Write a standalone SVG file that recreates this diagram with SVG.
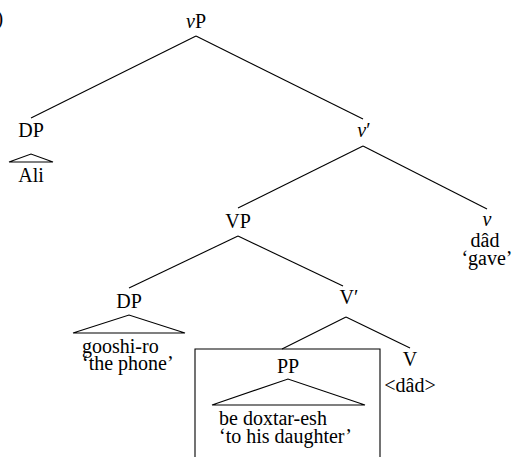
<svg xmlns="http://www.w3.org/2000/svg" width="513" height="457" viewBox="0 0 513 457">
<style>
text{font-family:"Liberation Serif","Times New Roman",serif;font-size:20px;fill:#000}
.c{text-anchor:middle}
.s{text-anchor:start}
.i{font-style:italic}
line,polyline,path{stroke:#000;stroke-width:1.1;fill:none}
</style>
<rect width="513" height="457" fill="#fff"/>
<text x="-3.5" y="25">)</text>
<g id="connectors">
<line x1="196" y1="36" x2="31" y2="118"/>
<line x1="196" y1="36" x2="363" y2="119"/>
<line x1="363" y1="146" x2="238" y2="208"/>
<line x1="363" y1="146" x2="487" y2="209"/>
<line x1="238" y1="236" x2="129" y2="288"/>
<line x1="238" y1="236" x2="343" y2="286"/>
<line x1="346" y1="317" x2="282" y2="349"/>
<line x1="346" y1="317" x2="410" y2="348"/>
</g>
<g id="vP"><text class="c" x="196" y="28"><tspan class="i">v</tspan>P</text></g>
<g id="DP-Ali">
<text class="c" x="31" y="137">DP</text>
<path d="M9 162 L31 154 L53 162 Z"/>
<text class="c" x="31" y="182">Ali</text>
</g>
<g id="vbar"><text class="c" x="364" y="137"><tspan class="i">v</tspan>′</text></g>
<g id="v">
<text class="c i" x="487" y="226">v</text>
<text class="c" x="485" y="247">dâd</text>
<text class="c" x="487" y="265">‘gave’</text>
</g>
<g id="VP"><text class="c" x="238" y="228">VP</text></g>
<g id="DP-phone">
<text class="c" x="129" y="308">DP</text>
<path d="M73 333 L129 315 L185 333 Z"/>
<text class="s" x="82" y="353">gooshi-ro</text>
<text class="s" x="82" y="370">‘the phone’</text>
</g>
<g id="Vbar"><text class="c" x="349" y="304">V′</text></g>
<g id="V">
<text class="c" x="410" y="366">V</text>
<text class="c" x="410" y="392">&lt;dâd&gt;</text>
</g>
<g id="PP">
<path d="M195 460 L195 349 L380 349 L380 460"/>
<text class="c" x="288" y="373">PP</text>
<path d="M212 405 L288 379 L365 405 Z"/>
<text class="s" x="219" y="425">be doxtar-esh</text>
<text class="s" x="219" y="443">‘to his daughter’</text>
</g>
</svg>
